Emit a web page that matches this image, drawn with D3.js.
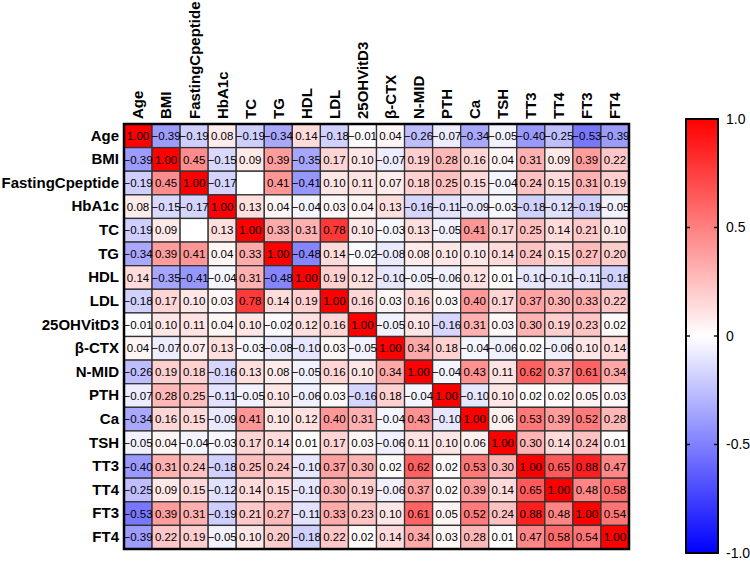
<!DOCTYPE html>
<html>
<head>
<meta charset="utf-8">
<script src="https://cdn.jsdelivr.net/npm/d3@7"></script>
<style>
  body { margin: 0; background: #fff; }
  svg { display: block; font-family: "Liberation Sans", Arial, sans-serif; }
</style>
</head>
<body>
<div id="d1"></div>
<script>
// variable names, same order for rows and columns
const vars = ["Age", "BMI", "FastingCpeptide", "HbA1c", "TC", "TG", "HDL", "LDL", "25OHVitD3",
  "β-CTX", "N-MID", "PTH", "Ca", "TSH", "TT3", "TT4", "FT3", "FT4"];

// one row of the correlation matrix per variable (null = empty cell)
const rowAge   = [1.00, -0.39, -0.19, 0.08, -0.19, -0.34, 0.14, -0.18, -0.01, 0.04, -0.26, -0.07, -0.34, -0.05, -0.40, -0.25, -0.53, -0.39];
const rowBMI   = [-0.39, 1.00, 0.45, -0.15, 0.09, 0.39, -0.35, 0.17, 0.10, -0.07, 0.19, 0.28, 0.16, 0.04, 0.31, 0.09, 0.39, 0.22];
const rowFCP   = [-0.19, 0.45, 1.00, -0.17, null, 0.41, -0.41, 0.10, 0.11, 0.07, 0.18, 0.25, 0.15, -0.04, 0.24, 0.15, 0.31, 0.19];
const rowHbA1c = [0.08, -0.15, -0.17, 1.00, 0.13, 0.04, -0.04, 0.03, 0.04, 0.13, -0.16, -0.11, -0.09, -0.03, -0.18, -0.12, -0.19, -0.05];
const rowTC    = [-0.19, 0.09, null, 0.13, 1.00, 0.33, 0.31, 0.78, 0.10, -0.03, 0.13, -0.05, 0.41, 0.17, 0.25, 0.14, 0.21, 0.10];
const rowTG    = [-0.34, 0.39, 0.41, 0.04, 0.33, 1.00, -0.48, 0.14, -0.02, -0.08, 0.08, 0.10, 0.10, 0.14, 0.24, 0.15, 0.27, 0.20];
const rowHDL   = [0.14, -0.35, -0.41, -0.04, 0.31, -0.48, 1.00, 0.19, 0.12, -0.10, -0.05, -0.06, 0.12, 0.01, -0.10, -0.10, -0.11, -0.18];
const rowLDL   = [-0.18, 0.17, 0.10, 0.03, 0.78, 0.14, 0.19, 1.00, 0.16, 0.03, 0.16, 0.03, 0.40, 0.17, 0.37, 0.30, 0.33, 0.22];
const rowVitD3 = [-0.01, 0.10, 0.11, 0.04, 0.10, -0.02, 0.12, 0.16, 1.00, -0.05, 0.10, -0.16, 0.31, 0.03, 0.30, 0.19, 0.23, 0.02];
const rowBCTX  = [0.04, -0.07, 0.07, 0.13, -0.03, -0.08, -0.10, 0.03, -0.05, 1.00, 0.34, 0.18, -0.04, -0.06, 0.02, -0.06, 0.10, 0.14];
const rowNMID  = [-0.26, 0.19, 0.18, -0.16, 0.13, 0.08, -0.05, 0.16, 0.10, 0.34, 1.00, -0.04, 0.43, 0.11, 0.62, 0.37, 0.61, 0.34];
const rowPTH   = [-0.07, 0.28, 0.25, -0.11, -0.05, 0.10, -0.06, 0.03, -0.16, 0.18, -0.04, 1.00, -0.10, 0.10, 0.02, 0.02, 0.05, 0.03];
const rowCa    = [-0.34, 0.16, 0.15, -0.09, 0.41, 0.10, 0.12, 0.40, 0.31, -0.04, 0.43, -0.10, 1.00, 0.06, 0.53, 0.39, 0.52, 0.28];
const rowTSH   = [-0.05, 0.04, -0.04, -0.03, 0.17, 0.14, 0.01, 0.17, 0.03, -0.06, 0.11, 0.10, 0.06, 1.00, 0.30, 0.14, 0.24, 0.01];
const rowTT3   = [-0.40, 0.31, 0.24, -0.18, 0.25, 0.24, -0.10, 0.37, 0.30, 0.02, 0.62, 0.02, 0.53, 0.30, 1.00, 0.65, 0.88, 0.47];
const rowTT4   = [-0.25, 0.09, 0.15, -0.12, 0.14, 0.15, -0.10, 0.30, 0.19, -0.06, 0.37, 0.02, 0.39, 0.14, 0.65, 1.00, 0.48, 0.58];
const rowFT3   = [-0.53, 0.39, 0.31, -0.19, 0.21, 0.27, -0.11, 0.33, 0.23, 0.10, 0.61, 0.05, 0.52, 0.24, 0.88, 0.48, 1.00, 0.54];
const rowFT4   = [-0.39, 0.22, 0.19, -0.05, 0.10, 0.20, -0.18, 0.22, 0.02, 0.14, 0.34, 0.03, 0.28, 0.01, 0.47, 0.58, 0.54, 1.00];

// colour bar ticks
const barTicks = [1, 0.5, 0, -0.5, -1];
const barTickLabels = ["1.0", "0.5", "0", "-0.5", "-1.0"];

const rows = [rowAge, rowBMI, rowFCP, rowHbA1c, rowTC, rowTG, rowHDL, rowLDL, rowVitD3,
  rowBCTX, rowNMID, rowPTH, rowCa, rowTSH, rowTT3, rowTT4, rowFT3, rowFT4];

const cells = [];
rows.forEach((r, i) => r.forEach((v, j) => cells.push({ row: vars[i], col: vars[j], value: v })));

const width = 750, height = 578;
const margin = { top: 124, left: 124, right: 121, bottom: 29 };
const gridRight = width - margin.right;
const gridBottom = height - margin.bottom;

const x = d3.scaleBand().domain(vars).range([margin.left, gridRight]);
const y = d3.scaleBand().domain(vars).range([margin.top, gridBottom]);

const color = d3.scaleLinear()
  .domain([-1, 0, 1])
  .range(["#0000ff", "#ffffff", "#ff0000"]);

const svg = d3.select("#d1")
  .append("svg")
  .attr("width", width)
  .attr("height", height)
  .attr("viewBox", [0, 0, width, height]);

// cells
svg.append("g")
  .selectAll("rect")
  .data(cells)
  .join("rect")
  .attr("x", d => x(d.col))
  .attr("y", d => y(d.row))
  .attr("width", x.bandwidth())
  .attr("height", y.bandwidth())
  .attr("fill", d => d.value == null ? "#ffffff" : color(d.value))
  .attr("stroke", "#333")
  .attr("stroke-width", 1.3);

// cell values
svg.append("g")
  .attr("font-size", 11.5)
  .attr("text-anchor", "middle")
  .attr("fill", "#000")
  .selectAll("text")
  .data(cells.filter(d => d.value != null))
  .join("text")
  .attr("x", d => x(d.col) + x.bandwidth() / 2)
  .attr("y", d => y(d.row) + y.bandwidth() / 2)
  .attr("dy", "0.36em")
  .text(d => d3.format(".2f")(d.value));

// outer frame
svg.append("rect")
  .attr("x", margin.left)
  .attr("y", margin.top)
  .attr("width", gridRight - margin.left)
  .attr("height", gridBottom - margin.top)
  .attr("fill", "none")
  .attr("stroke", "#000")
  .attr("stroke-width", 2.5);

// row labels
svg.append("g")
  .attr("transform", `translate(${margin.left},0)`)
  .call(d3.axisLeft(y).tickSize(0).tickPadding(5))
  .call(g => g.select(".domain").remove())
  .call(g => g.selectAll("text")
    .attr("font-size", 15)
    .attr("font-weight", "bold")
    .attr("font-family", "Liberation Sans, Arial, sans-serif")
    .attr("fill", "#000"));

// column labels, rotated
svg.append("g")
  .attr("transform", `translate(0,${margin.top})`)
  .call(d3.axisTop(x).tickSize(0))
  .call(g => g.select(".domain").remove())
  .call(g => g.selectAll("text")
    .attr("transform", "rotate(-90)")
    .attr("x", 5)
    .attr("y", 0)
    .attr("dy", "0.36em")
    .attr("text-anchor", "start")
    .attr("font-size", 15)
    .attr("font-weight", "bold")
    .attr("font-family", "Liberation Sans, Arial, sans-serif")
    .attr("fill", "#000"));

// colour bar
const bar = { x: 686, w: 32, top: 119, bottom: 553 };
const cy = d3.scaleLinear().domain([-1, 1]).range([bar.bottom, bar.top]);

const grad = svg.append("defs").append("linearGradient")
  .attr("id", "cbar")
  .attr("x1", 0).attr("x2", 0).attr("y1", 1).attr("y2", 0);
grad.selectAll("stop")
  .data(d3.range(0, 1.0001, 0.05))
  .join("stop")
  .attr("offset", d => d)
  .attr("stop-color", d => color(d * 2 - 1));

svg.append("rect")
  .attr("x", bar.x)
  .attr("y", bar.top)
  .attr("width", bar.w)
  .attr("height", bar.bottom - bar.top)
  .attr("fill", "url(#cbar)")
  .attr("stroke", "#000")
  .attr("stroke-width", 2);

// small inner tick dashes on both edges
const inner = barTicks.filter(v => Math.abs(v) < 1);
svg.append("g")
  .attr("stroke", "#111")
  .attr("stroke-width", 1.5)
  .selectAll("line")
  .data(inner.flatMap(v => [[v, bar.x, bar.x + 4], [v, bar.x + bar.w - 4, bar.x + bar.w]]))
  .join("line")
  .attr("x1", d => d[1])
  .attr("x2", d => d[2])
  .attr("y1", d => cy(d[0]))
  .attr("y2", d => cy(d[0]));

svg.append("g")
  .attr("transform", `translate(${bar.x + bar.w},0)`)
  .call(d3.axisRight(cy)
    .tickValues(barTicks)
    .tickSize(0)
    .tickPadding(8)
    .tickFormat((d, i) => barTickLabels[i]))
  .call(g => g.select(".domain").remove())
  .call(g => g.selectAll("text")
    .attr("font-size", 14)
    .attr("font-family", "Liberation Sans, Arial, sans-serif")
    .attr("fill", "#000"));
</script>
</body>
</html>
